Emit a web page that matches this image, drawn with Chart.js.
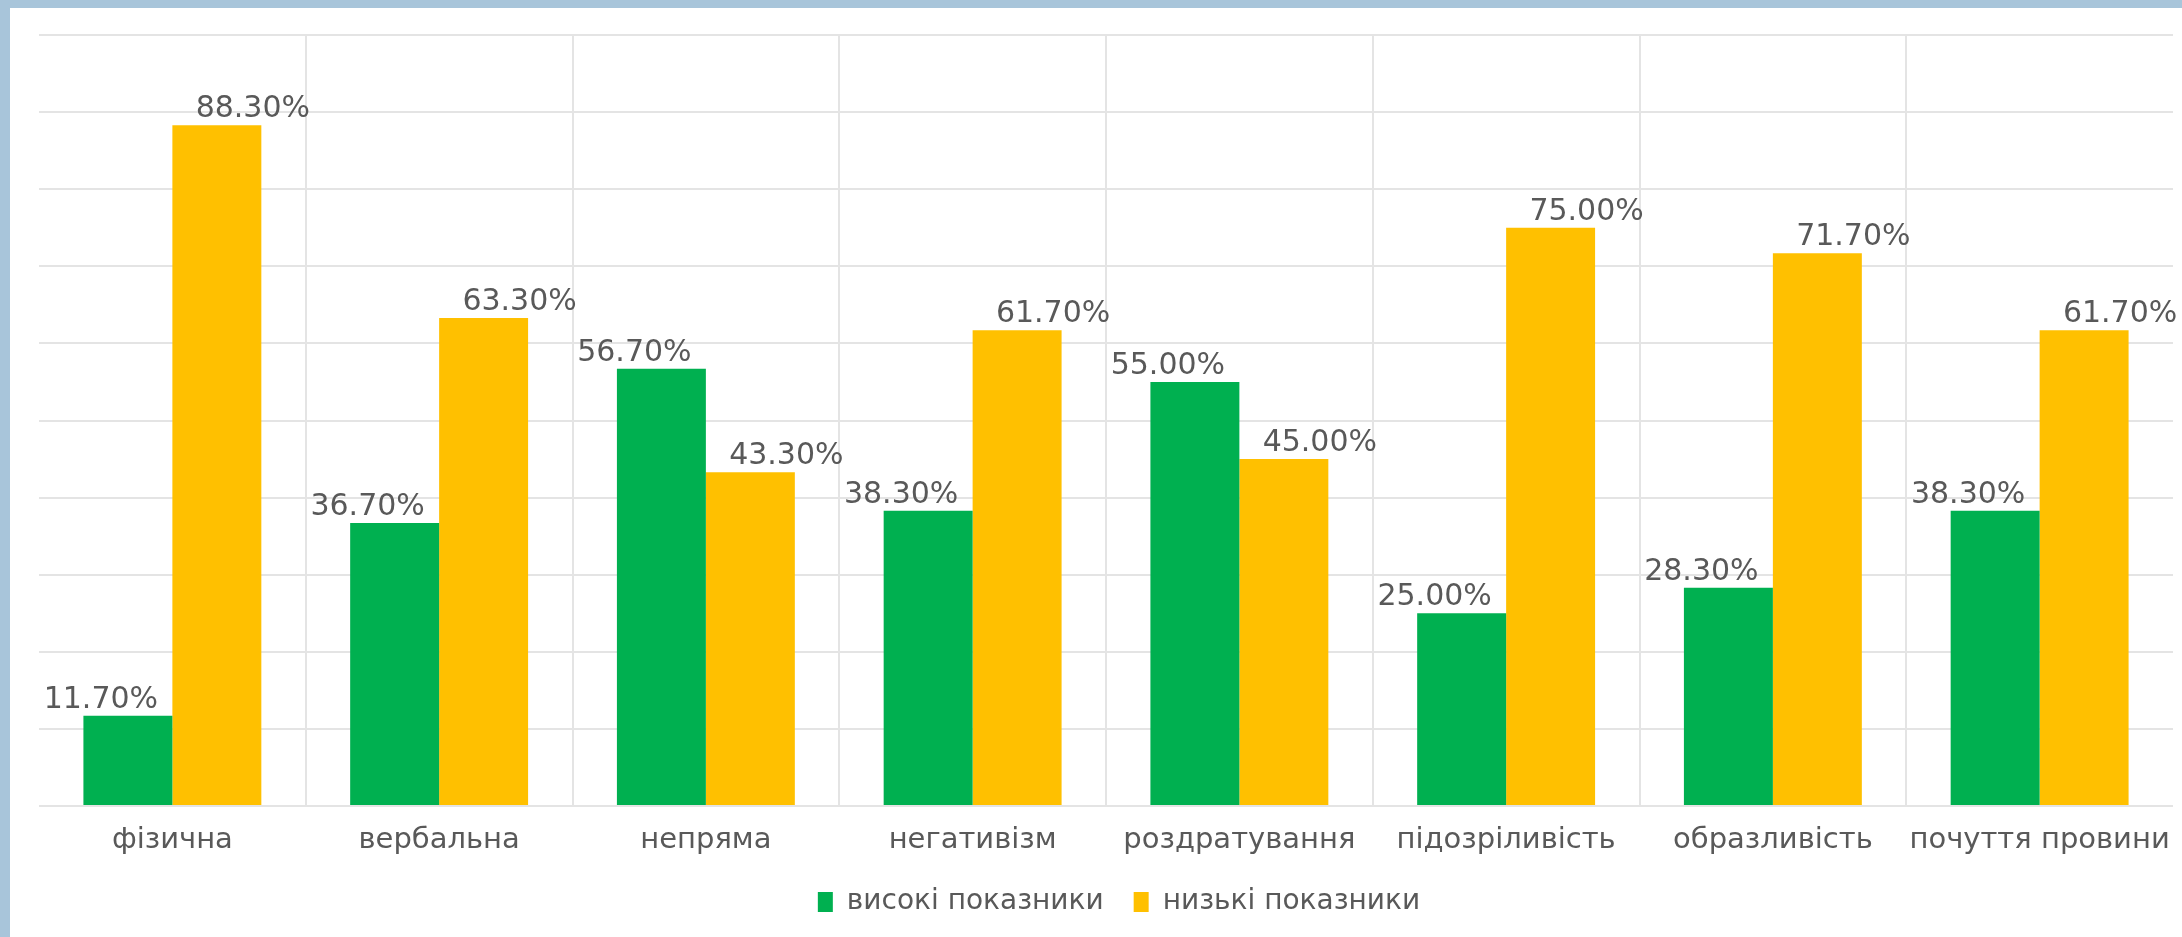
<!DOCTYPE html>
<html>
<head>
<meta charset="utf-8">
<script src="https://cdn.jsdelivr.net/npm/chart.js@4"></script>
<style>
  html, body { margin: 0; padding: 0; }
  body { width: 2182px; height: 937px; background: #a8c5da; position: relative; overflow: hidden; }
  #panel { position: absolute; left: 10px; top: 8px; width: 2172px; height: 929px; background: #ffffff; }
</style>
</head>
<body>
<div id="panel"><canvas id="chart"></canvas></div>
<script>
const categories = ['фізична', 'вербальна', 'непряма', 'негативізм', 'роздратування', 'підозріливість', 'образливість', 'почуття провини'];
const highValues = [11.7, 36.7, 56.7, 38.3, 55.0, 25.0, 28.3, 38.3];
const lowValues = [88.3, 63.3, 43.3, 61.7, 45.0, 75.0, 71.7, 61.7];
const seriesNames = ['високі показники', 'низькі показники'];

const textColor = '#595959';
const gridColor = '#e4e4e4';
const fontFamily = '"DejaVu Sans", Verdana, sans-serif';

// підписи значень над стовпцями, зсунуті вбік як в оригіналі
const valueLabels = {
  id: 'valueLabels',
  afterDatasetsDraw(chart) {
    const ctx = chart.ctx;
    ctx.save();
    ctx.font = '30px ' + fontFamily;
    ctx.fillStyle = textColor;
    ctx.textAlign = 'center';
    ctx.textBaseline = 'bottom';
    chart.data.datasets.forEach((ds, i) => {
      const shift = i === 0 ? -27 : 36;
      chart.getDatasetMeta(i).data.forEach((bar, j) => {
        ctx.fillText(ds.data[j].toFixed(2) + '%', bar.x + shift, bar.y - 1);
      });
    });
    ctx.restore();
  }
};

// легенда трохи правіше центру, як на зразку
const legendShift = {
  id: 'legendShift',
  afterLayout(chart) {
    chart.legend.left += 13;
    chart.legend.right += 13;
  }
};

new Chart(document.getElementById('chart'), {
  type: 'bar',
  data: {
    labels: categories,
    datasets: [
      { label: seriesNames[0], data: highValues, backgroundColor: '#00b050' },
      { label: seriesNames[1], data: lowValues, backgroundColor: '#ffc000' }
    ]
  },
  options: {
    responsive: true,
    maintainAspectRatio: false,
    animation: false,
    categoryPercentage: 0.667,
    barPercentage: 1.0,
    layout: { padding: { left: 29, right: 9, top: 27, bottom: 11 } },
    scales: {
      x: {
        grid: {
          color: c => (c.type === 'tick' && c.index > 0) ? gridColor : 'rgba(0,0,0,0)',
          lineWidth: 2,
          drawTicks: false
        },
        border: { display: false },
        ticks: { color: textColor, font: { family: fontFamily, size: 29 }, padding: 17, maxRotation: 0 },
        afterFit(scale) {
          scale.height = 52;
          scale.paddingLeft = 0;
          scale.paddingRight = 0;
        }
      },
      y: {
        min: 0,
        max: 100,
        ticks: { display: false, stepSize: 10 },
        grid: { color: gridColor, lineWidth: 2, drawTicks: false },
        border: { display: false }
      }
    },
    plugins: {
      legend: {
        position: 'bottom',
        labels: {
          color: textColor,
          font: { family: fontFamily, size: 28 },
          boxWidth: 15,
          boxHeight: 20,
          padding: 30
        }
      },
      tooltip: { enabled: false }
    }
  },
  plugins: [valueLabels, legendShift]
});
</script>
</body>
</html>
